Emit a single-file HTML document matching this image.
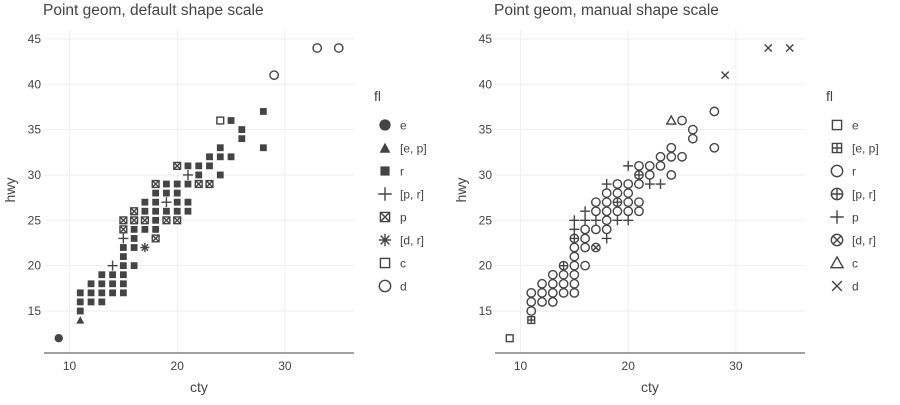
<!DOCTYPE html>
<html><head><meta charset="utf-8"><style>
body{margin:0;background:#fff;font-family:"Liberation Sans",Arial,sans-serif}
svg text{font-family:"Liberation Sans",Arial,sans-serif;fill:#444}
</style></head><body>
<svg id="c" width="900" height="400" xmlns="http://www.w3.org/2000/svg"></svg>
<script>
const cty = [9,11,11,11,11,12,12,12,13,13,13,13,14,14,14,14,15,15,15,15,15,15,15,15,15,16,16,16,16,16,16,17,17,17,17,17,18,18,18,18,18,18,18,19,19,19,19,19,20,20,20,20,20,20,21,21,21,21,21,22,22,22,23,23,23,24,24,24,24,25,25,26,26,28,28,29,33,35];
const hwy = [12,14,15,16,17,16,17,18,16,17,18,19,17,18,19,20,17,18,19,20,21,22,23,24,25,20,22,23,24,25,26,22,24,26,27,25,23,24,25,26,27,28,29,25,26,28,29,27,25,26,27,28,29,31,26,27,29,31,30,29,30,31,29,31,32,30,32,33,36,32,36,34,35,33,37,41,44,44];
const fl = ['e','[e, p]','r','r','r','r','r','r','r','r','r','r','r','r','r','[p, r]','r','r','r','r','r','r','[p, r]','p','p','r','r','r','r','p','p','[d, r]','r','r','r','p','p','r','r','r','r','r','p','p','r','r','r','[p, r]','p','r','r','r','r','p','r','r','r','r','[p, r]','p','r','r','p','r','r','r','r','r','c','r','r','r','r','r','r','d','d','d'];
const categories = ['e','[e, p]','r','[p, r]','p','[d, r]','c','d'];
const xTicks = [10,20,30];
const yTicks = [15,20,25,30,35,40,45];
const shapesDefault = ['circle','triangle','square','cross','squarex','asterisk','squareopen','circleopen'];
const shapesManual = ['squareopen','squareplus','circleopen','circleplus','cross','circlex','triangleopen','xmark'];
const NS='http://www.w3.org/2000/svg';
const svg=document.getElementById('c');
function el(t,a,p){const e=document.createElementNS(NS,t);for(const k in a)e.setAttribute(k,a[k]);(p||svg).appendChild(e);return e;}
function sym(g,s,x,y,k){
  const C='#444';const r=4.2*k,h=3.4*k;let e;
  const st={stroke:C,'stroke-width':1.4,fill:'none'};
  switch(s){
    case 'circle':e=el('circle',{cx:x,cy:y,r:r,fill:C},g);break;
    case 'triangle':e=el('path',{d:`M${x-4*k},${y+3.5*k}L${x+4*k},${y+3.5*k}L${x},${y-4*k}Z`,fill:C},g);break;
    case 'triangleopen':e=el('path',Object.assign({d:`M${x-4.5*k},${y+3.5*k}L${x+4.5*k},${y+3.5*k}L${x},${y-4.5*k}Z`},st),g);break;
    case 'square':e=el('rect',{x:x-h,y:y-h,width:2*h,height:2*h,fill:C},g);break;
    case 'squareopen':e=el('rect',Object.assign({x:x-h,y:y-h,width:2*h,height:2*h},st),g);break;
    case 'squarex':e=el('path',Object.assign({d:`M${x-h},${y-h}h${2*h}v${2*h}h${-2*h}zM${x-h},${y-h}l${2*h},${2*h}M${x+h},${y-h}l${-2*h},${2*h}`},st),g);break;
    case 'squareplus':e=el('path',Object.assign({d:`M${x-h},${y-h}h${2*h}v${2*h}h${-2*h}zM${x},${y-h}v${2*h}M${x-h},${y}h${2*h}`},st),g);break;
    case 'circleopen':e=el('circle',Object.assign({cx:x,cy:y,r:r},st),g);break;
    case 'circleplus':e=el('path',Object.assign({d:`M${x-r},${y}a${r},${r} 0 1,0 ${2*r},0a${r},${r} 0 1,0 ${-2*r},0M${x},${y-r}v${2*r}M${x-r},${y}h${2*r}`},st),g);break;
    case 'circlex':{const d=r*0.7;e=el('path',Object.assign({d:`M${x-r},${y}a${r},${r} 0 1,0 ${2*r},0a${r},${r} 0 1,0 ${-2*r},0M${x-d},${y-d}l${2*d},${2*d}M${x+d},${y-d}l${-2*d},${2*d}`},st),g);break;}
    case 'cross':e=el('path',Object.assign({d:`M${x-5*k},${y}h${10*k}M${x},${y-5*k}v${10*k}`},st),g);break;
    case 'xmark':e=el('path',Object.assign({d:`M${x-3.6*k},${y-3.6*k}l${7.2*k},${7.2*k}M${x+3.6*k},${y-3.6*k}l${-7.2*k},${7.2*k}`},st),g);break;
    case 'asterisk':e=el('path',Object.assign({d:`M${x-4.5*k},${y}h${9*k}M${x},${y-4.5*k}v${9*k}M${x-3.2*k},${y-3.2*k}l${6.4*k},${6.4*k}M${x+3.2*k},${y-3.2*k}l${-6.4*k},${6.4*k}`},st),g);break;
  }
  return e;
}
function panel(x0,title,shapes,legX,nm){
  const X0=x0,W=310,T=30,B=353;
  const xs=v=>X0+25.5+(v-10)*10.77;
  const ys=v=>311-(v-15)*9.07;
  const g=el('g',{});
  
  
  xTicks.forEach(t=>{const l=el('line',{x1:xs(t),x2:xs(t),y1:T,y2:B,stroke:'#eee'},g);
    const tx=el('text',{x:xs(t),y:370,'text-anchor':'middle','font-size':12},g);tx.textContent=t;});
  yTicks.forEach(t=>{const l=el('line',{x1:X0,x2:X0+W,y1:ys(t),y2:ys(t),stroke:'#eee'},g);
    const tx=el('text',{x:X0-3,y:ys(t)+4,'text-anchor':'end','font-size':12},g);tx.textContent=t;});
  const ax=el('line',{x1:X0,x2:X0+W,y1:B,y2:B,stroke:'#444','stroke-width':1},g);
  const tt=el('text',{x:X0-1,y:15,'font-size':15.5},g);tt.textContent=title;
  const xl=el('text',{x:X0+155,y:392,'text-anchor':'middle','font-size':14},g);xl.textContent='cty';
  const yl=el('text',{x:0,y:0,'text-anchor':'middle','font-size':14,transform:`translate(${X0-29},190) rotate(-90)`},g);yl.textContent='hwy';
  cty.forEach((c,i)=>{const k=categories.indexOf(fl[i]);const p=sym(g,shapes[k],xs(c),ys(hwy[i]),1);
    
    });
  const lt=el('text',{x:legX-11,y:101,'font-size':14},g);lt.textContent='fl';
  categories.forEach((c,i)=>{const y=125+i*23;const s=sym(g,shapes[i],legX,y,1.35);
    const t=el('text',{x:legX+15,y:y+4.5,'font-size':12},g);t.textContent=c;});
}
panel(44,'Point geom, default shape scale',shapesDefault,385,'panel-default');
panel(495,'Point geom, manual shape scale',shapesManual,837,'panel-manual');
</script>
</body></html>
